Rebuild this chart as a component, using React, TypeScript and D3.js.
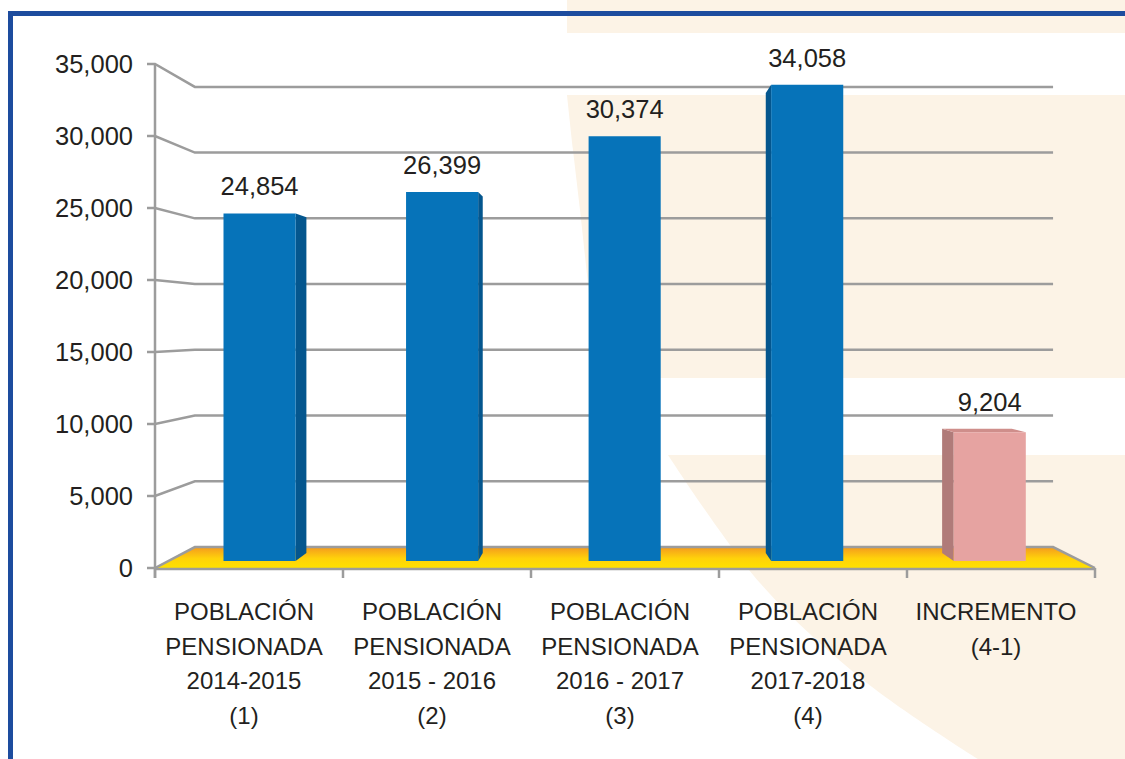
import React from "react";
import * as d3 from "d3";

// ---------- data ----------
const categoryLines: string[][] = [
  ["POBLACIÓN", "PENSIONADA", "2014-2015", "(1)"],
  ["POBLACIÓN", "PENSIONADA", "2015 - 2016", "(2)"],
  ["POBLACIÓN", "PENSIONADA", "2016 - 2017", "(3)"],
  ["POBLACIÓN", "PENSIONADA", "2017-2018", "(4)"],
  ["INCREMENTO", "(4-1)"],
];
const values: number[] = [24854, 26399, 30374, 34058, 9204];
const seriesKind: string[] = ["pob", "pob", "pob", "pob", "inc"];
const yTicks: number[] = [0, 5000, 10000, 15000, 20000, 25000, 30000, 35000];

// ---------- styles ----------
const W = 1125;
const H = 759;
const FONT = "'Liberation Sans', Arial, Helvetica, sans-serif";
const TEXT = "#231f20";
const GRID = "#9c9c9c";
const palette: Record<string, { front: string; side: string; top: string }> = {
  pob: { front: "#0673b9", side: "#04568e", top: "#0a62a0" },
  inc: { front: "#e6a3a1", side: "#b07b79", top: "#cf8e8b" },
};

// perspective
const VX = 613;
const VY = 327;
const S_WALL = 0.913;
const S_BAR_FRONT = 0.971;
const S_BAR_BACK = 0.938;

const proj = (x: number, y: number, s: number): [number, number] => [
  VX + s * (x - VX),
  VY + s * (y - VY),
];
const pts = (arr: [number, number][]) => arr.map((p) => p.join(",")).join(" ");

export default function App() {
  const x = d3
    .scaleBand<number>()
    .domain(values.map((_, i) => i))
    .range([155, 1095])
    .padding(0);
  const y = d3.scaleLinear().domain([0, 35000]).range([568, 64]);
  const fmt = d3.format(",");

  const left = x.range()[0];
  const right = x.range()[1];
  const y0 = y(0);

  const barW = x.bandwidth() * 0.395;

  const lineCurve = d3.line().curve(d3.curveCatmullRom);
  const lowerEdge = lineCurve([
    [668, 455],
    [760, 583],
    [867, 683],
    [978, 759],
  ]) as string;
  const midEdge = lineCurve([
    [567, 95],
    [573, 150],
    [580, 210],
    [598, 378],
  ]) as string;

  return (
    <svg
      width={W}
      height={H}
      style={{ position: "absolute", left: 0, top: 0, display: "block", background: "#ffffff" }}
      fontFamily={FONT}
    >
      <defs>
        <linearGradient id="floorGrad" x1="0" y1="0" x2="0" y2="1">
          <stop offset="0" stopColor="#f49a1e" />
          <stop offset="0.55" stopColor="#ffd20a" />
          <stop offset="1" stopColor="#ffe100" />
        </linearGradient>
      </defs>

      {/* decorative cream background */}
      <g fill="#fcf3e6">
        <rect x={567} y={0} width={W - 567} height={33} />
        <path d={`${midEdge} L${W},378 L${W},95 Z`} />
        <path d={`${lowerEdge} L${W},759 L${W},455 Z`} />
      </g>

      {/* frame */}
      <path d={`M10.5,${H} L10.5,13.5 L${W},13.5`} fill="none" stroke="#1d4c9e" strokeWidth={5} />

      {/* gridlines */}
      <g fill="none" stroke={GRID} strokeWidth={2.5}>
        {yTicks
          .filter((t) => t !== 0)
          .map((t) => {
            const yy = y(t);
            const a = proj(left, yy, S_WALL);
            const b = proj(right, yy, S_WALL);
            return (
              <path
                key={t}
                d={`M147,${yy} L${left},${yy} L${a[0]},${a[1]} L${b[0]},${b[1]}`}
              />
            );
          })}
      </g>

      {/* floor */}
      {(() => {
        const bl = proj(left, y0, S_WALL);
        const br = proj(right, y0, S_WALL);
        return (
          <g>
            <polygon
              points={pts([[left, y0], [right, y0], br, bl])}
              fill="url(#floorGrad)"
            />
            <path
              d={`M147,${y0} L${left},${y0} L${bl[0]},${bl[1]} L${br[0]},${br[1]} L${right},${y0}`}
              fill="none"
              stroke={GRID}
              strokeWidth={2.5}
            />
          </g>
        );
      })()}

      {/* bars */}
      {values.map((v, i) => {
        const c = palette[seriesKind[i]];
        const cx = (x(i) as number) + x.bandwidth() / 2;
        const x0 = cx - barW / 2;
        const x1 = cx + barW / 2;
        const yt = y(v);
        const faces: React.ReactNode[] = [];
        if (VX < x0) {
          faces.push(
            <polygon
              key="l"
              points={pts([
                proj(x0, yt, S_BAR_FRONT),
                proj(x0, yt, S_BAR_BACK),
                proj(x0, y0, S_BAR_BACK),
                proj(x0, y0, S_BAR_FRONT),
              ])}
              fill={c.side}
            />
          );
        }
        if (VX > x1) {
          faces.push(
            <polygon
              key="r"
              points={pts([
                proj(x1, yt, S_BAR_FRONT),
                proj(x1, yt, S_BAR_BACK),
                proj(x1, y0, S_BAR_BACK),
                proj(x1, y0, S_BAR_FRONT),
              ])}
              fill={c.side}
            />
          );
        }
        if (yt > VY) {
          faces.push(
            <polygon
              key="t"
              points={pts([
                proj(x0, yt, S_BAR_FRONT),
                proj(x1, yt, S_BAR_FRONT),
                proj(x1, yt, S_BAR_BACK),
                proj(x0, yt, S_BAR_BACK),
              ])}
              fill={c.top}
            />
          );
        }
        faces.push(
          <polygon
            key="f"
            points={pts([
              proj(x0, yt, S_BAR_FRONT),
              proj(x1, yt, S_BAR_FRONT),
              proj(x1, y0, S_BAR_FRONT),
              proj(x0, y0, S_BAR_FRONT),
            ])}
            fill={c.front}
          />
        );
        const topY = Math.min(proj(x0, yt, S_BAR_FRONT)[1], proj(x0, yt, S_BAR_BACK)[1]);
        const lc = proj(cx, yt, S_BAR_FRONT)[0];
        return (
          <g key={i}>
            {faces}
            <text
              x={lc}
              y={topY - 18}
              textAnchor="middle"
              fontSize={25.5}
              fill={TEXT}
            >
              {fmt(v)}
            </text>
          </g>
        );
      })}

      {/* axes */}
      <g stroke={GRID} strokeWidth={2.5} fill="none">
        <line x1={left} y1={y(35000)} x2={left} y2={y0 + 10} />
        <line x1={left} y1={y0 + 1} x2={right} y2={y0 + 1} />
        {d3.range(values.length + 1).map((k) => {
          const xx = k < values.length ? (x(k) as number) : right;
          return <line key={k} x1={xx} y1={y0} x2={xx} y2={y0 + 10} />;
        })}
      </g>

      {/* y tick labels */}
      <g fontSize={25.5} fill={TEXT} textAnchor="end">
        {yTicks.map((t) => (
          <text key={t} x={133} y={y(t) + 9}>
            {fmt(t)}
          </text>
        ))}
      </g>

      {/* x labels */}
      <g fontSize={24} fill={TEXT} textAnchor="middle">
        {categoryLines.map((lines, i) => {
          const cx = (x(i) as number) + x.bandwidth() / 2 - 5;
          return (
            <text key={i} x={cx} y={620}>
              {lines.map((ln, j) => (
                <tspan key={j} x={cx} dy={j === 0 ? 0 : 34.5}>
                  {ln}
                </tspan>
              ))}
            </text>
          );
        })}
      </g>
    </svg>
  );
}
